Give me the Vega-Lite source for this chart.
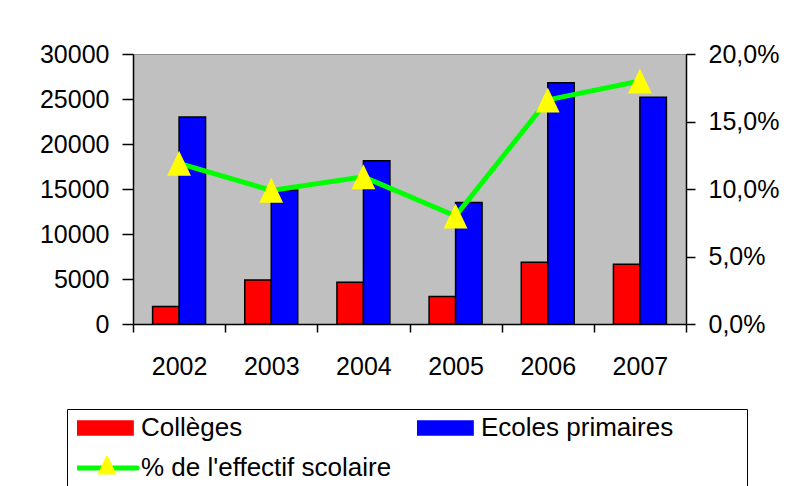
{
  "$schema": "https://vega.github.io/schema/vega-lite/v6.json",
  "autosize": {"type": "none"},
  "padding": {"left": 133, "top": 54, "right": 112, "bottom": 162},
  "width": 553,
  "height": 270,
  "background": "white",
  "config": {
    "font": "Liberation Sans",
    "view": {"fill": "#C0C0C0", "stroke": "#909090", "strokeWidth": 1},
    "axis": {"labelFont": "Liberation Sans", "labelFontSize": 25, "labelColor": "black", "domainColor": "black", "tickColor": "black", "domainWidth": 1.5, "tickWidth": 1.5, "grid": false, "title": null}
  },
  "datasets": {
    "bars": [
      {"year": "2002", "series": "Collèges", "value": 1950},
      {"year": "2002", "series": "Ecoles primaires", "value": 23000},
      {"year": "2003", "series": "Collèges", "value": 4900},
      {"year": "2003", "series": "Ecoles primaires", "value": 14900},
      {"year": "2004", "series": "Collèges", "value": 4650},
      {"year": "2004", "series": "Ecoles primaires", "value": 18150},
      {"year": "2005", "series": "Collèges", "value": 3050},
      {"year": "2005", "series": "Ecoles primaires", "value": 13500},
      {"year": "2006", "series": "Collèges", "value": 6850},
      {"year": "2006", "series": "Ecoles primaires", "value": 26800},
      {"year": "2007", "series": "Collèges", "value": 6650},
      {"year": "2007", "series": "Ecoles primaires", "value": 25200}
    ],
    "pct": [
      {"year": "2002", "series": "% de l'effectif scolaire", "pct": 0.119},
      {"year": "2003", "series": "% de l'effectif scolaire", "pct": 0.099},
      {"year": "2004", "series": "% de l'effectif scolaire", "pct": 0.109},
      {"year": "2005", "series": "% de l'effectif scolaire", "pct": 0.080},
      {"year": "2006", "series": "% de l'effectif scolaire", "pct": 0.166},
      {"year": "2007", "series": "% de l'effectif scolaire", "pct": 0.180}
    ]
  },
  "layer": [
    {
      "data": {"name": "bars"},
      "mark": {"type": "bar", "stroke": "black", "strokeWidth": 1.5},
      "encoding": {
        "x": {
          "field": "year", "type": "nominal",
          "scale": {"paddingInner": 0, "paddingOuter": 0},
          "axis": {"labelAngle": 0, "tickBand": "extent", "tickSize": 8, "labelPadding": 22, "encode": {"ticks": {"update": {"y": {"value": -8}}}}}
        },
        "xOffset": {"field": "series", "type": "nominal", "sort": ["Collèges", "Ecoles primaires"], "scale": {"paddingInner": 0, "paddingOuter": 0.74}},
        "y": {
          "field": "value", "type": "quantitative",
          "scale": {"domain": [0, 30000], "nice": false},
          "axis": {"orient": "left", "values": [0, 5000, 10000, 15000, 20000, 25000, 30000], "format": "d", "tickSize": 11, "labelPadding": 13, "encode": {"ticks": {"update": {"x": {"value": 7}}}}}
        },
        "color": {
          "field": "series", "type": "nominal",
          "scale": {"domain": ["Collèges", "Ecoles primaires", "% de l'effectif scolaire"], "range": ["#FF0000", "#0000FF", "#00FF00"]},
          "legend": {
            "orient": "none", "legendX": -66, "legendY": 355, "direction": "horizontal",
            "title": "\u00a0", "titleOrient": "right", "titlePadding": 64, "titleFontSize": 10,
            "columns": 2, "columnPadding": 25, "rowPadding": 14,
            "padding": 10, "strokeColor": "black", "fillColor": "white",
            "labelFont": "Liberation Sans", "labelFontSize": 26, "labelColor": "black", "labelOffset": 38, "labelLimit": 400,
            "symbolSize": 3844, "clipHeight": 18,
            "symbolType": "M-0.43,-0.226H1.39V0.226H-0.43Z",
            "symbolStrokeColor": "black", "symbolStrokeWidth": 1.5, "symbolOpacity": 1,
            "encode": {"symbols": {"update": {
              "shape": {"signal": "(datum.value === 'Collèges' || datum.value === 'Ecoles primaires') ? 'M-0.43,-0.226H1.39V0.226H-0.43Z' : 'M-0.4,0H1.52'"},
              "stroke": {"signal": "(datum.value === 'Collèges' || datum.value === 'Ecoles primaires') ? 'black' : '#00FF00'"},
              "strokeWidth": {"signal": "(datum.value === 'Collèges' || datum.value === 'Ecoles primaires') ? 1.5 : 5"},
              "strokeCap": {"value": "round"}
            }}}
          }
        }
      }
    },
    {
      "data": {"name": "pct"},
      "layer": [
        {
          "mark": {"type": "line", "strokeWidth": 5},
          "encoding": {
            "x": {"field": "year", "type": "nominal"},
            "y": {"field": "pct", "type": "quantitative"},
            "color": {"field": "series", "type": "nominal", "legend": null}
          }
        },
        {
          "mark": {"type": "point", "filled": true, "color": "#FFFF00", "opacity": 1, "size": 625},
          "encoding": {
            "x": {"field": "year", "type": "nominal"},
            "y": {"field": "pct", "type": "quantitative"},
            "shape": {
              "field": "series", "type": "nominal",
              "scale": {"range": ["M0,-1L-0.95,1L0.95,1Z"]},
              "legend": {
                "orient": "none", "legendX": -36.5, "legendY": 401.5, "title": null,
                "padding": 0, "labelExpr": "''", "labelOffset": 0,
                "symbolSize": 441, "symbolFillColor": "#FFFF00", "symbolStrokeWidth": 0, "symbolOpacity": 1,
                "clipHeight": 19
              }
            }
          }
        }
      ],
      "encoding": {
        "y": {
          "field": "pct", "type": "quantitative",
          "scale": {"domain": [0, 0.2], "nice": false},
          "axis": {"orient": "right", "values": [0, 0.05, 0.1, 0.15, 0.2], "labelExpr": "replace(format(datum.value, '.1%'), '.', ',')", "tickSize": 9, "labelPadding": 13, "encode": {"ticks": {"update": {"x": {"value": -9}}}}}
        }
      }
    }
  ],
  "resolve": {"scale": {"y": "independent"}}
}
